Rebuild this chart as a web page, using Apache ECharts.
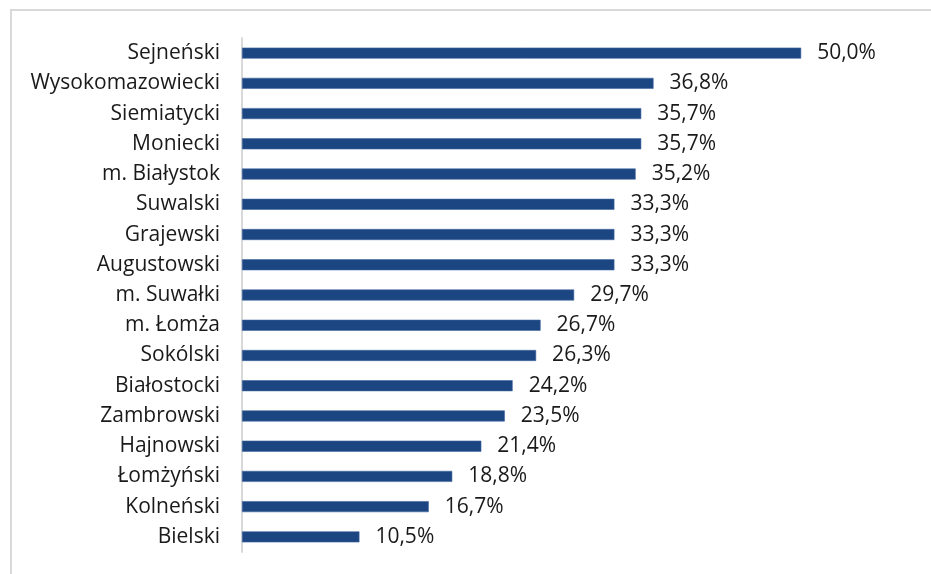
<!DOCTYPE html>
<html>
<head>
<meta charset="utf-8">
<script src="https://cdn.jsdelivr.net/npm/echarts@6/dist/echarts.min.js"></script>
<style>
html,body{margin:0;padding:0;background:#fff;}
#chart{width:931px;height:574px;}
</style>
</head>
<body>
<div id="chart"></div>
<script>
// Powiaty, sorted from highest share to lowest
const categories = [
  'Sejneński', 'Wysokomazowiecki', 'Siemiatycki', 'Moniecki', 'm. Białystok',
  'Suwalski', 'Grajewski', 'Augustowski', 'm. Suwałki', 'm. Łomża',
  'Sokólski', 'Białostocki', 'Zambrowski', 'Hajnowski', 'Łomżyński',
  'Kolneński', 'Bielski'
];
const values = [
  50.0, 36.8, 35.7, 35.7, 35.2,
  33.3, 33.3, 33.3, 29.7, 26.7,
  26.3, 24.2, 23.5, 21.4, 18.8,
  16.7, 10.5
];

const fontFamily = 'Open Sans, Liberation Sans, sans-serif';
const chart = echarts.init(document.getElementById('chart'));
chart.setOption({
  animation: false,
  backgroundColor: '#ffffff',
  graphic: [
    { type: 'line', shape: { x1: 10, y1: 10, x2: 931, y2: 10 }, style: { stroke: '#d9d9d9', lineWidth: 2 } },
    { type: 'line', shape: { x1: 11, y1: 9, x2: 11, y2: 574 }, style: { stroke: '#d9d9d9', lineWidth: 2 } }
  ],
  grid: { left: 242, right: 18, top: 38, bottom: 22, containLabel: false },
  xAxis: {
    type: 'value', min: 0, max: 60, show: false
  },
  yAxis: {
    type: 'category',
    data: categories,
    inverse: true,
    axisLine: { lineStyle: { color: '#d9d9d9', width: 2 } },
    axisTick: { show: false },
    axisLabel: { color: '#1a1a1a', fontSize: 21, fontFamily: fontFamily, margin: 22 }
  },
  series: [{
    type: 'bar',
    data: values,
    barWidth: 11,
    itemStyle: { color: '#1c4682', borderColor: '#3f66a0', borderWidth: 0.6 },
    label: {
      show: true,
      position: 'right',
      distance: 16,
      color: '#1a1a1a',
      fontSize: 21,
      fontFamily: fontFamily,
      formatter: p => p.value.toFixed(1).replace('.', ',') + '%'
    }
  }]
});
</script>
</body>
</html>
